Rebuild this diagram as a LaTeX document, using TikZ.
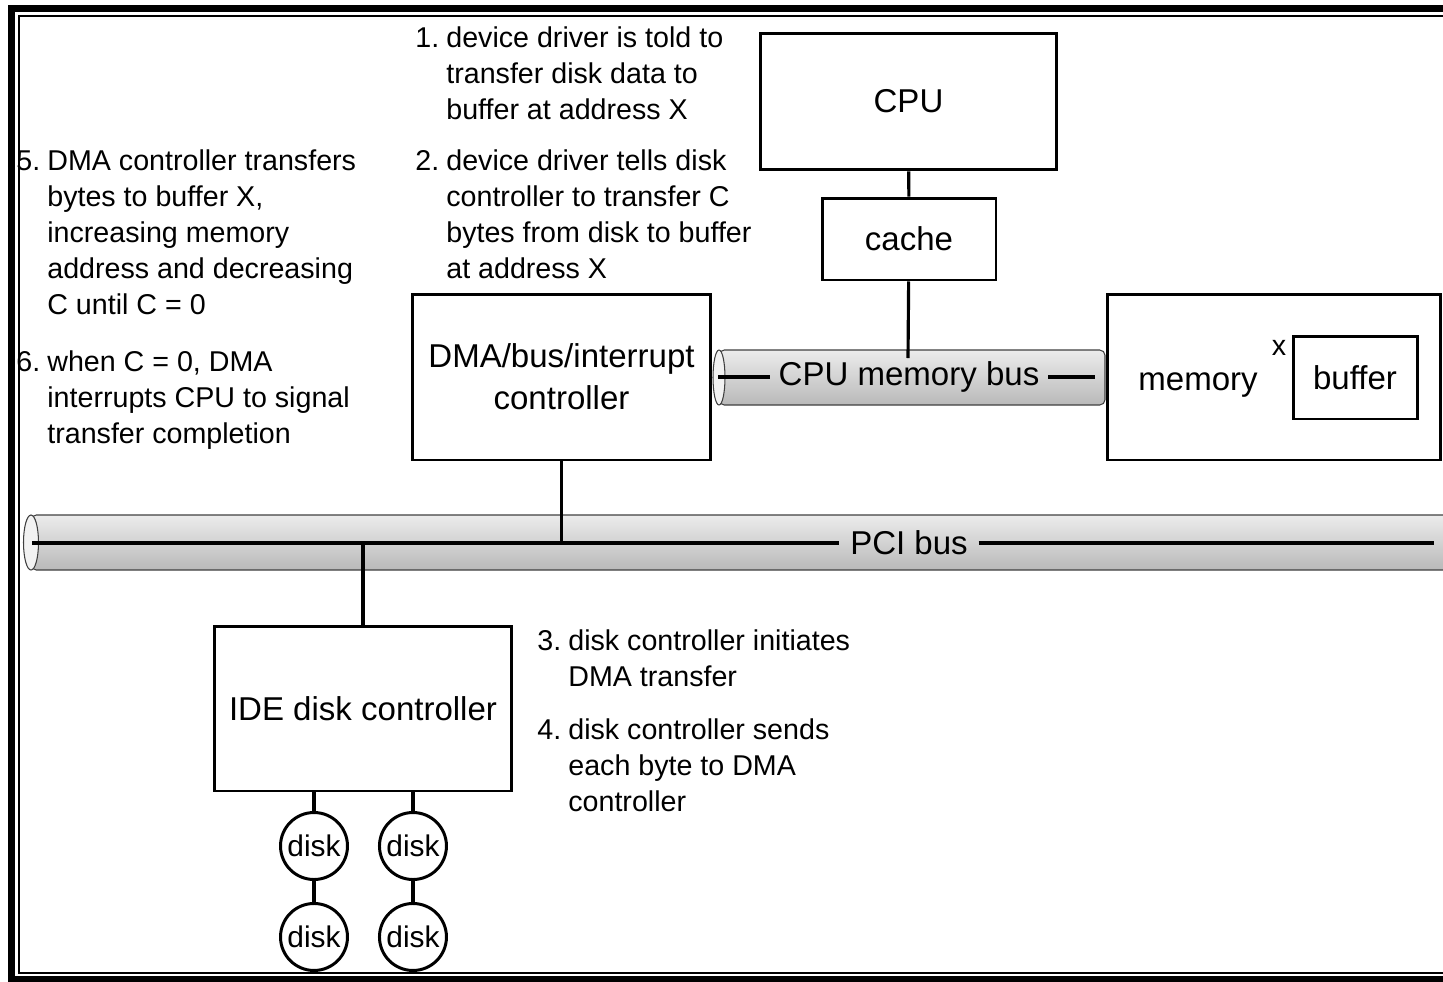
\documentclass[tikz,border=0pt]{standalone}
\usepackage{fontspec}
\setmainfont{Liberation Sans}
\usetikzlibrary{positioning}
\newcommand{\notefont}{\fontsize{16.3}{20.5}\selectfont}
\newcommand{\boxfont}{\fontsize{18.8}{23.8}\selectfont}

\begin{document}
\begin{tikzpicture}[x=0.02cm, y=-0.02cm,
  unit/.style={draw, rectangle, line width=1.7pt, inner sep=0pt, align=center, font=\boxfont},
  disk/.style={draw, circle, line width=1.7pt, minimum size=1.34cm, inner sep=0pt, font=\fontsize{17}{20}\selectfont},
  wire/.style={line width=1.8pt},
  note/.style={anchor=base west, inner sep=0pt, font=\notefont},
  buslabel/.style={inner ysep=0pt, inner xsep=5pt, font=\boxfont},
  busbody/.style={top color=gray!15, bottom color=gray!55, draw=black!75, line width=0.6pt, rounded corners=3pt},
  busend/.style={fill=gray!10, draw=black!75, line width=0.6pt}]
  \useasboundingbox (0,0) rectangle (1443,981);

  % Buses (cylinders)
  \shadedraw[busbody] (719,350) rectangle (1105,405);
  \filldraw[busend] (719,377.5) ellipse (0.12cm and 0.55cm);
  \shadedraw[busbody] (31,515) rectangle (1448,570);
  \filldraw[busend] (31,542.5) ellipse (0.15cm and 0.55cm);

  \node[buslabel] (cpubus) at (909,377) {CPU memory bus};
  \node[buslabel, inner xsep=6pt] (pcibus) at (909,543) {PCI bus};
  \coordinate (cpubusl) at (718,377);
  \coordinate (cpubusr) at (1095,377);
  \coordinate (pcil) at (32,543);
  \coordinate (pcir) at (1434,543);
  \draw[wire] (cpubusl) -- (cpubus.west);
  \draw[wire] (cpubus.east) -- (cpubusr);
  \draw[wire] (pcil) -- (pcibus.west);
  \draw[wire] (pcibus.east) -- (pcir);

  % Units
  \node[unit, minimum width=5.94cm, minimum height=2.74cm] (cpu) at (908.5,101.5) {CPU};
  \node[unit, minimum width=3.48cm, minimum height=1.64cm] (cache) at (909,239) {cache};
  \node[unit, minimum width=5.98cm, minimum height=3.32cm] (dma) at (561.5,377) {DMA/bus/interrupt\\controller};
  \node[unit, minimum width=6.68cm, minimum height=3.32cm] (mem) at (1274,377) {};
  \node[font=\boxfont, anchor=base] (memlabel) at (1198,390) {memory};
  \node[unit, minimum width=2.48cm, minimum height=1.66cm] (buffer) at (1355,377.5) {buffer};
  \node[font=\notefont, anchor=base, inner sep=0pt] (addrx) at (1279,355) {x};
  \node[unit, minimum width=5.96cm, minimum height=3.3cm] (ide) at (363,708.5) {IDE disk controller};

  % Disks
  \node[disk] (d1) at (314,846) {disk};
  \node[disk, right=0.58cm of d1] (d2) {disk};
  \node[disk, below=0.42cm of d1] (d3) {disk};
  \node[disk, below=0.42cm of d2] (d4) {disk};

  % Connections
  \coordinate (cachetap) at (908,358);
  \draw[wire] (cpu) -- (cache);
  \draw[wire] (cache) -- (cachetap);
  \draw[wire] (dma.south) -- (dma.south |- pcil);
  \draw[wire] (ide.north) -- (ide.north |- pcil);
  \draw[wire] (d1 |- ide.south) -- (d1);
  \draw[wire] (d2 |- ide.south) -- (d2);
  \draw[wire] (d1) -- (d3);
  \draw[wire] (d2) -- (d4);

  % Step notes
  \node[note] (note1) at (415,47) {\begin{tabular}[t]{@{}p{0.62cm}@{}l@{}}
    1. & device driver is told to\\
       & transfer disk data to\\
       & buffer at address X
  \end{tabular}};
  \node[note] (note2) at (415,170) {\begin{tabular}[t]{@{}p{0.62cm}@{}l@{}}
    2. & device driver tells disk\\
       & controller to transfer C\\
       & bytes from disk to buffer\\
       & at address X
  \end{tabular}};
  \node[note] (note3) at (537,650) {\begin{tabular}[t]{@{}p{0.62cm}@{}l@{}}
    3. & disk controller initiates\\
       & DMA transfer
  \end{tabular}};
  \node[note] (note4) at (537,739) {\begin{tabular}[t]{@{}p{0.62cm}@{}l@{}}
    4. & disk controller sends\\
       & each byte to DMA\\
       & controller
  \end{tabular}};
  \node[note] (note5) at (16,170) {\begin{tabular}[t]{@{}p{0.62cm}@{}l@{}}
    5. & DMA controller transfers\\
       & bytes to buffer X,\\
       & increasing memory\\
       & address and decreasing\\
       & C until C = 0
  \end{tabular}};
  \node[note] (note6) at (16,371) {\begin{tabular}[t]{@{}p{0.62cm}@{}l@{}}
    6. & when C = 0, DMA\\
       & interrupts CPU to signal\\
       & transfer completion
  \end{tabular}};

  % Frame
  \draw[line width=4pt] (1450,8.5) -- (11.5,8.5) -- (11.5,979.5) -- (1450,979.5);
  \draw[line width=1.1pt] (1450,16) -- (19,16) -- (19,973) -- (1450,973);
\end{tikzpicture}
\end{document}
